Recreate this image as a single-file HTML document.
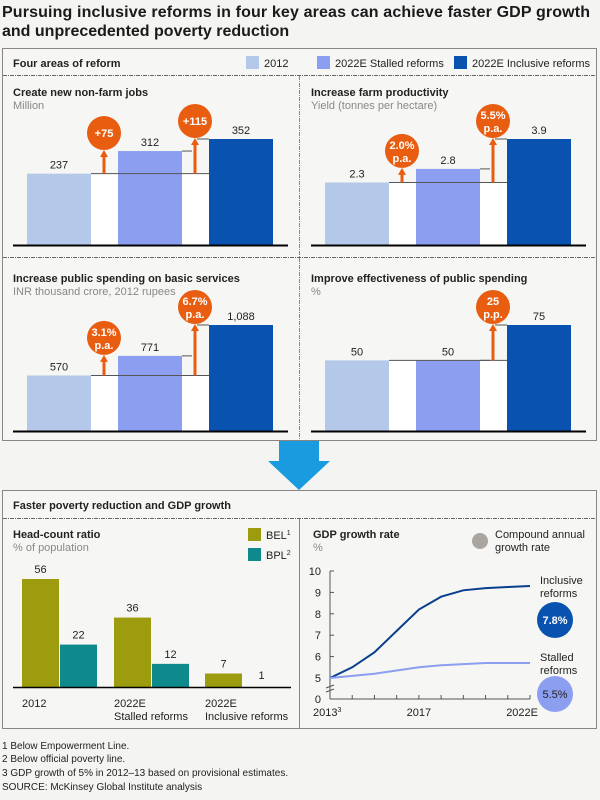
<!DOCTYPE html>
<html><head><meta charset="utf-8"><style>
body{margin:0;background:#f4f4f2;}
svg{display:block;font-family:"Liberation Sans",Arial,sans-serif;}
</style></head><body>
<svg id="c" width="600" height="800" viewBox="0 0 600 800">
<rect x="0" y="0" width="600" height="800" fill="#f4f4f2"/>
<text x="2" y="17" font-size="16" font-weight="bold" fill="#1a1a1a" textLength="588">Pursuing inclusive reforms in four key areas can achieve faster GDP growth</text>
<text x="2" y="36" font-size="16" font-weight="bold" fill="#1a1a1a">and unprecedented poverty reduction</text>

<rect x="2.5" y="48.5" width="594" height="392" fill="#f6f6f4" stroke="#8a8580"/>
<text x="13" y="67" font-size="11" font-weight="bold" fill="#222">Four areas of reform</text>
<rect x="246" y="56" width="13" height="13" fill="#b4c8ea"/>
<text x="264" y="67" font-size="11" fill="#222">2012</text>
<rect x="317" y="56" width="13" height="13" fill="#8c9ef0"/>
<text x="335" y="67" font-size="11" fill="#222">2022E Stalled reforms</text>
<rect x="454" y="56" width="13" height="13" fill="#0a52b0"/>
<text x="472" y="67" font-size="11" fill="#222">2022E Inclusive reforms</text>
<line x1="3" y1="75.5" x2="596" y2="75.5" stroke="#666" stroke-dasharray="4,1,1,1"/>
<line x1="299.5" y1="76" x2="299.5" y2="440" stroke="#888" stroke-dasharray="4,1,1,1"/>
<line x1="3" y1="257.5" x2="596" y2="257.5" stroke="#666" stroke-dasharray="4,1,1,1"/>
<g id="panels"></g>

<path d="M279,441 H319 V461 H330 L299,490 L268,461 H279 Z" fill="#1a9be0"/>

<rect x="2.5" y="490.5" width="594" height="238" fill="#f6f6f4" stroke="#8a8580"/>
<text x="13" y="509" font-size="11" font-weight="bold" fill="#222">Faster poverty reduction and GDP growth</text>
<line x1="3" y1="518.5" x2="596" y2="518.5" stroke="#666" stroke-dasharray="4,1,1,1"/>
<line x1="299.5" y1="519" x2="299.5" y2="728" stroke="#8a8580"/>
<text x="13" y="538" font-size="11" font-weight="bold" fill="#222">Head-count ratio</text>
<text x="13" y="551" font-size="11" fill="#888">% of population</text>
<rect x="248" y="528" width="13" height="13" fill="#9c9c0e"/>
<text x="266" y="539" font-size="11" fill="#222">BEL<tspan font-size="7" dy="-4">1</tspan></text>
<rect x="248" y="548" width="13" height="13" fill="#0f8a8c"/>
<text x="266" y="559" font-size="11" fill="#222">BPL<tspan font-size="7" dy="-4">2</tspan></text>
<g id="pov"></g>

<text x="313" y="538" font-size="11" font-weight="bold" fill="#222">GDP growth rate</text>
<text x="313" y="551" font-size="11" fill="#888">%</text>
<circle cx="480" cy="541" r="8" fill="#aaa59e"/>
<text x="495" y="538" font-size="11" fill="#222">Compound annual</text>
<text x="495" y="551" font-size="11" fill="#222">growth rate</text>
<g id="gdp"></g>
<text x="540" y="584" font-size="11" fill="#222">Inclusive</text>
<text x="540" y="597" font-size="11" fill="#222">reforms</text>
<circle cx="555" cy="620" r="18" fill="#0a52b0"/>
<text x="555" y="624" font-size="11" font-weight="bold" fill="#fff" text-anchor="middle">7.8%</text>
<text x="540" y="661" font-size="11" fill="#222">Stalled</text>
<text x="540" y="674" font-size="11" fill="#222">reforms</text>
<circle cx="555" cy="694" r="18" fill="#8c9ef0"/>
<text x="555" y="698" font-size="11" fill="#222" text-anchor="middle">5.5%</text>

<text x="2" y="749" font-size="10" fill="#222">1  Below Empowerment Line.</text>
<text x="2" y="762" font-size="10" fill="#222">2  Below official poverty line.</text>
<text x="2" y="776" font-size="10" fill="#222">3  GDP growth of 5% in 2012–13 based on provisional estimates.</text>
<text x="2" y="790" font-size="10" fill="#222">SOURCE: McKinsey Global Institute analysis</text>
</svg>
<script>
const NS='http://www.w3.org/2000/svg';
const panelTitles=['Create new non-farm jobs','Increase farm productivity','Increase public spending on basic services','Improve effectiveness of public spending'];
const panelUnits=['Million','Yield (tonnes per hectare)','INR thousand crore, 2012 rupees','%'];
const jobsValues=[237,312,352];
const farmValues=[2.3,2.8,3.9];
const spendValues=[570,771,1088];
const effectValues=[50,50,75];
const valueLabels=[['237','312','352'],['2.3','2.8','3.9'],['570','771','1,088'],['50','50','75']];
const growthLabels=[['+75','+115'],['2.0%|p.a.','5.5%|p.a.'],['3.1%|p.a.','6.7%|p.a.'],['','25|p.p.']];
const panelMax=[352,3.9,1088,75];
const povCategories=['2012','2022E|Stalled reforms','2022E|Inclusive reforms'];
const belValues=[56,36,7];
const bplValues=[22,12,1];
const gdpYears=[2013,2014,2015,2016,2017,2018,2019,2020,2021,2022];
const inclusiveGdp=[5,5.5,6.2,7.2,8.2,8.8,9.1,9.2,9.25,9.3];
const stalledGdp=[5,5.1,5.2,5.35,5.5,5.6,5.65,5.7,5.7,5.7];
const gdpTicks=[5,6,7,8,9,10];
const gdpXLabels=['2013|3','2017','2022E'];

function mk(tag,attrs,parent,txt){const e=document.createElementNS(NS,tag);for(const k in attrs)e.setAttribute(k,attrs[k]);if(txt!==undefined)e.textContent=txt;parent.appendChild(e);return e;}
const panels=document.getElementById('panels');
const allVals=[jobsValues,farmValues,spendValues,effectValues];
const colors=['#b4c8ea','#8c9ef0','#0a52b0'];
allVals.forEach((vals,p)=>{
  const ox=p%2===0?0:298, oy=p<2?0:186;
  const base=245+oy, maxH=106;
  const y=v=>base-v/panelMax[p]*maxH;
  const g=mk('g',{},panels);
  
  
  const t=mk('text',{x:ox+13,y:oy+96,'font-size':11,'font-weight':'bold',fill:'#222'},g,panelTitles[p]);
  
  
  const u=mk('text',{x:ox+13,y:oy+109,'font-size':11,fill:'#888'},g,panelUnits[p]);
  
  
  const bx=[ox+27,ox+118,ox+209];
  const w=mk('rect',{x:bx[0],y:y(vals[0]),width:bx[2]+64-bx[0],height:base-y(vals[0]),fill:'#fff'},g);
  
  
  vals.forEach((v,i)=>{
    const r=mk('rect',{x:bx[i],y:y(v),width:64,height:base-y(v),fill:colors[i]},g);
    
    
    const l=mk('text',{x:bx[i]+32,y:y(v)-5,'font-size':11,fill:'#222','text-anchor':'middle'},g,valueLabels[p][i]);
    
    
  });
  mk('line',{x1:bx[0]+64,y1:y(vals[0]),x2:bx[2],y2:y(vals[0]),stroke:'#555','stroke-width':1},g);
  mk('line',{x1:bx[1]+64,y1:y(vals[1]),x2:bx[1]+64+10,y2:y(vals[1]),stroke:'#555'},g);
  mk('line',{x1:bx[2]-12,y1:y(vals[2]),x2:bx[2],y2:y(vals[2]),stroke:'#555'},g);
  [1,2].forEach(i=>{
    const lab=growthLabels[p][i-1]; if(!lab) return;
    const cx=bx[i]-14, top=y(vals[i]), r=17, cy=top-r-1;
    const a=mk('line',{x1:cx,y1:y(vals[0]),x2:cx,y2:cy+r+6,stroke:'#e85d10','stroke-width':3},g);
    
    
    mk('path',{d:`M${cx-4},${cy+r+7} L${cx},${cy+r} L${cx+4},${cy+r+7} Z`,fill:'#e85d10'},g);
    const c=mk('circle',{cx:cx,cy:cy,r:r,fill:'#e85d10'},g);
    
    
    const parts=lab.split('|');
    parts.forEach((s,k)=>{
      const tt=mk('text',{x:cx,y:cy+4+(parts.length>1?(k?7:-6):0),'font-size':11,'font-weight':'bold',fill:'#fff','text-anchor':'middle'},g,s);
      
      
    });
  });
  const ax=mk('line',{x1:ox+13,y1:base+0.5,x2:ox+288,y2:base+0.5,stroke:'#000','stroke-width':2},g);
  
  
});

const pov=document.getElementById('pov');
const pBase=687, pScale=108/56;
const py=v=>pBase-v*pScale;
const groupX=[22,114,205];
povCategories.forEach((cat,i)=>{
  [[belValues,'#9c9c0e',0],[bplValues,'#0f8a8c',38]].forEach(([arr,col,off],s)=>{
    const v=arr[i];
    const r=mk('rect',{x:groupX[i]+off,y:py(v),width:37,height:pBase-py(v),fill:col},pov);
    
    
    if(v<2) r.setAttribute('opacity','0');
    const l=mk('text',{x:groupX[i]+off+18.5,y:py(v)-6,'font-size':11,fill:'#222','text-anchor':'middle'},pov,String(v));
    
    
  });
  cat.split('|').forEach((s,k)=>{
    const t=mk('text',{x:groupX[i],y:707+k*13,'font-size':11,fill:'#222'},pov,s);
    
    
  });
});
const pa=mk('line',{x1:13,y1:pBase+0.5,x2:291,y2:pBase+0.5,stroke:'#000','stroke-width':1.5},pov);



const gdp=document.getElementById('gdp');
const gx0=330,gx1=530, gBase=699;
const gx=yr=>gx0+(yr-gdpYears[0])/(gdpYears[gdpYears.length-1]-gdpYears[0])*(gx1-gx0);
const gy=v=>678-(v-5)*21.4;
mk('line',{x1:gx0,y1:gy(10),x2:gx0,y2:gBase,stroke:'#555'},gdp);
mk('line',{x1:gx0,y1:gBase,x2:gx1,y2:gBase,stroke:'#555'},gdp);
mk('path',{d:`M${gx0-4},${688} L${gx0+4},${685} M${gx0-4},${692} L${gx0+4},${689}`,stroke:'#555',fill:'none'},gdp);
gdpTicks.forEach(v=>{
  mk('line',{x1:gx0,y1:gy(v),x2:gx0+4,y2:gy(v),stroke:'#555'},gdp);
  const t=mk('text',{x:gx0-9,y:gy(v)+4,'font-size':11,fill:'#222','text-anchor':'end'},gdp,String(v));
  
  
});
const z=mk('text',{x:gx0-9,y:gBase+4,'font-size':11,fill:'#222','text-anchor':'end'},gdp,'0');


gdpYears.forEach(yr=>mk('line',{x1:gx(yr),y1:gBase,x2:gx(yr),y2:gBase-4,stroke:'#555'},gdp));
[[0,gx(2013),'start'],[1,gx(2017),'middle'],[2,gx(2022)+8,'end']].forEach(([i,x,an])=>{
  const p=gdpXLabels[i].split('|');
  const t=mk('text',{x:i===0?313:x,y:716,'font-size':11,fill:'#222','text-anchor':an},gdp,p[0]);
  if(p[1]){mk('tspan',{'font-size':7,dy:-4},t,p[1]);}
  
  
});
[[inclusiveGdp,'#0a3f8f','inclusive-line'],[stalledGdp,'#8c9ef0','stalled-line']].forEach(([arr,col,nm])=>{
  const d=arr.map((v,i)=>(i?'L':'M')+gx(gdpYears[i]).toFixed(1)+','+gy(v).toFixed(1)).join(' ');
  const l=mk('path',{d:d,fill:'none',stroke:col,'stroke-width':2},gdp);
  
  
});
</script>
</body></html>
